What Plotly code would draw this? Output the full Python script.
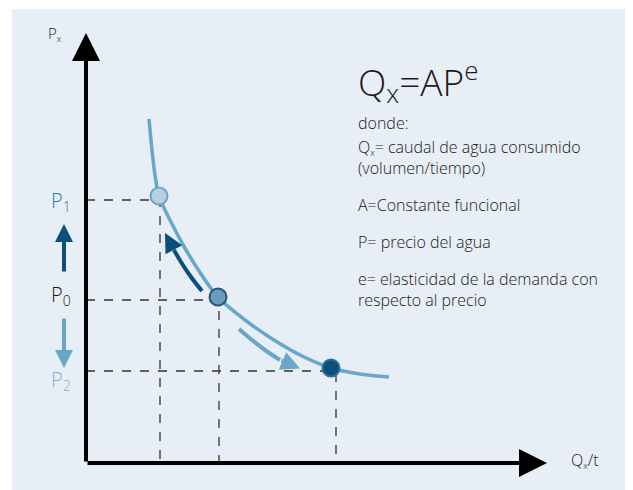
import plotly.graph_objects as go

# demand curve Q_x = A P^e (axis units, origin at the axes corner)
curve_q = [6.3, 6.6, 6.9, 7.3, 8.6, 10.0, 11.5, 13.2, 15.9, 18.8, 21.6, 24.5, 27.4, 30.3]
curve_p = [34.4, 31.3, 28.8, 26.7, 23.9, 21.3, 18.9, 16.6, 14.3, 12.3, 10.7, 9.5, 8.9, 8.6]

# the three price points P1, P0, P2
point_q = [7.3, 13.2, 24.5]
point_p = [26.7, 16.6, 9.5]
point_fill = ["#b7cfe0", "#6e9abb", "#0c4f7a"]
point_edge = ["#6aa6c8", "#1d5a82", "#2e6f99"]

# dashed guide levels
guide_q = [7.4, 13.3, 25.0]
guide_p = [26.3, 16.3, 9.2]

# price labels on the left
price_labels = ["P<sub>1</sub>", "P<sub>0</sub>", "P<sub>2</sub>"]
price_label_p = [26.2, 16.8, 8.3]
price_label_colors = ["#2f78a6", "#1a1a1a", "#7fb3d1"]

# curved movement arrows along the curve
up_arrow_q = [11.6, 10.5, 9.5, 8.8]
up_arrow_p = [17.2, 18.6, 20.1, 21.3]
up_tip = (7.9, 23.0)
down_arrow_q = [15.3, 16.6, 17.9, 19.4]
down_arrow_p = [13.4, 12.3, 11.3, 10.3]
down_tip = (21.4, 9.45)

SMALL_X = "<sub><span style='font-size:9px'>x</span></sub>"

# formula and legend text
formula = "Q<sub>x</sub>=AP<sup>e</sup>"
notes = [
    "donde:",
    "Q" + SMALL_X + "= caudal de agua consumido<br>(volumen/tiempo)",
    "A=Constante funcional",
    "P= precio del agua",
    "e= elasticidad de la demanda con<br>respecto al precio",
]
notes_p = [34.0, 30.6, 25.8, 22.1, 17.4]

DARK = "#0b4f7c"
LIGHT = "#6aa6c8"
FONT = "Open Sans"

fig = go.Figure()

# dashed guides
for q, p in zip(guide_q, guide_p):
    fig.add_trace(go.Scatter(x=[0, q, q], y=[p, p, 0], mode="lines",
                             line=dict(color="#333333", width=1.3, dash="9px,9px"),
                             hoverinfo="skip"))

# demand curve
fig.add_trace(go.Scatter(x=curve_q, y=curve_p, mode="lines", line_shape="spline",
                         line=dict(color=LIGHT, width=3.5), hoverinfo="skip"))

# arrow shafts
fig.add_trace(go.Scatter(x=up_arrow_q, y=up_arrow_p, mode="lines", line_shape="spline",
                         line=dict(color=DARK, width=4), hoverinfo="skip"))
fig.add_trace(go.Scatter(x=down_arrow_q, y=down_arrow_p, mode="lines", line_shape="spline",
                         line=dict(color=LIGHT, width=4), hoverinfo="skip"))

# points
fig.add_trace(go.Scatter(x=point_q, y=point_p, mode="markers",
                         marker=dict(size=17, color=point_fill,
                                     line=dict(color=point_edge, width=2)),
                         hoverinfo="skip"))

annotations = []

# axes with arrow heads
annotations.append(dict(x=0, y=43.0, ax=0, ay=0, xref="x", yref="y", axref="x", ayref="y",
                        showarrow=True, arrowhead=2, arrowsize=1.4, arrowwidth=4,
                        arrowcolor="black", text=""))
annotations.append(dict(x=46.1, y=0, ax=0, ay=0, xref="x", yref="y", axref="x", ayref="y",
                        showarrow=True, arrowhead=2, arrowsize=1.4, arrowwidth=4,
                        arrowcolor="black", text=""))

# heads of the curved arrows
annotations.append(dict(x=up_tip[0], y=up_tip[1], ax=up_arrow_q[-1], ay=up_arrow_p[-1],
                        xref="x", yref="y", axref="x", ayref="y", showarrow=True,
                        arrowhead=2, arrowsize=0.95, arrowwidth=4, arrowcolor=DARK, text=""))
annotations.append(dict(x=down_tip[0], y=down_tip[1], ax=down_arrow_q[-1], ay=down_arrow_p[-1],
                        xref="x", yref="y", axref="x", ayref="y", showarrow=True,
                        arrowhead=2, arrowsize=0.95, arrowwidth=4, arrowcolor=LIGHT, text=""))

# price change arrows on the left
annotations.append(dict(x=-2.2, y=23.9, ax=-2.2, ay=19.0, xref="x", yref="y", axref="x", ayref="y",
                        showarrow=True, arrowhead=2, arrowsize=0.9, arrowwidth=4,
                        arrowcolor=DARK, text=""))
annotations.append(dict(x=-2.2, y=9.5, ax=-2.2, ay=14.6, xref="x", yref="y", axref="x", ayref="y",
                        showarrow=True, arrowhead=2, arrowsize=0.9, arrowwidth=4,
                        arrowcolor=LIGHT, text=""))

for lab, p, c in zip(price_labels, price_label_p, price_label_colors):
    annotations.append(dict(x=-3.7, y=p, xref="x", yref="y", text=lab, showarrow=False,
                            xanchor="left", yanchor="middle",
                            font=dict(family=FONT, size=20, color=c, weight=300)))

# axis titles
annotations.append(dict(x=-4.0, y=42.9, xref="x", yref="y", text="P" + SMALL_X, showarrow=False,
                        xanchor="left", yanchor="middle",
                        font=dict(family=FONT, size=15, color="#222222", weight=300)))
annotations.append(dict(x=48.3, y=0.3, xref="x", yref="y", text="Q" + SMALL_X + "/t", showarrow=False,
                        xanchor="left", yanchor="middle",
                        font=dict(family=FONT, size=16, color="#222222", weight=300)))

# formula + notes
annotations.append(dict(x=27.0, y=38.2, xref="x", yref="y", text=formula, showarrow=False,
                        xanchor="left", yanchor="middle",
                        font=dict(family=FONT, size=37, color="#1a1a1a", weight=300)))
for t, p in zip(notes, notes_p):
    annotations.append(dict(x=27.0, y=p, xref="x", yref="y", text=t, showarrow=False,
                            xanchor="left", yanchor="middle", align="left",
                            font=dict(family=FONT, size=16, color="#1a1a1a", weight=300)))

# the page body adds an 8px offset, so the figure is shrunk to fit the window
fig.update_layout(
    width=625, height=482,
    margin=dict(l=4, r=0, t=1, b=0),
    paper_bgcolor="white",
    plot_bgcolor="#e7eef5",
    showlegend=False,
    annotations=annotations,
    xaxis=dict(range=[-7.4, 54.7], visible=False, fixedrange=True),
    yaxis=dict(range=[-2.7, 45.4], visible=False, fixedrange=True),
)

fig.write_html("out.html")
